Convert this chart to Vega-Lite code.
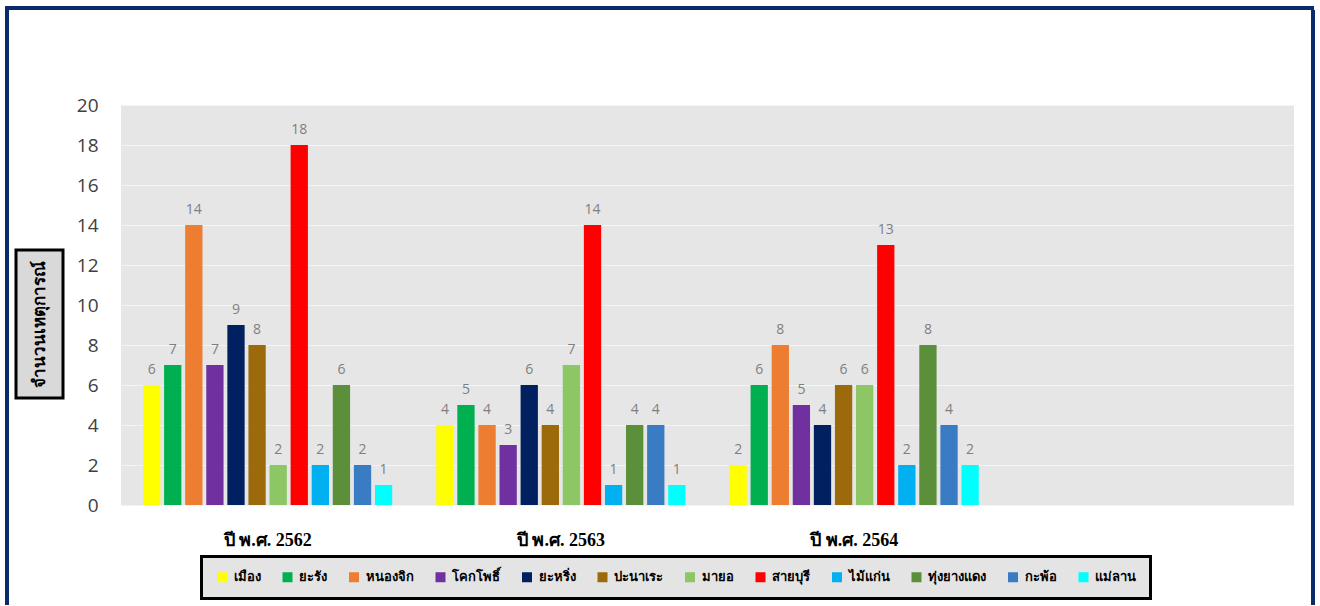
{
  "$schema": "https://vega.github.io/schema/vega-lite/v6.json",
  "padding": {"left": 5, "top": 6, "right": 0, "bottom": 0},
  "background": "white",
  "spacing": 0,
  "config": {
    "view": {"stroke": null},
    "concat": {"spacing": 0},
    "legend": {"strokeWidth": 3}
  },
  "vconcat": [
    {"width": 1309, "height": 4, "view": {"fill": "#0b2a6b", "stroke": null}, "data": {"values": []}, "mark": "point"},
    {
      "hconcat": [
        {"width": 4, "height": 595, "view": {"fill": "#0b2a6b", "stroke": null}, "data": {"values": []}, "mark": "point"},
        {"width": 5, "height": 1, "data": {"values": []}, "mark": "point"},
        {
          "vconcat": [
            {"width": 1, "height": 238, "data": {"values": []}, "mark": "point"},
            {
              "width": 47, "height": 148,
              "view": {"fill": "#d9d9d9", "stroke": "#000000", "strokeWidth": 3},
              "data": {"values": [{"label": "จำนวนเหตุการณ์"}]},
              "mark": {"type": "text", "angle": 270, "fontSize": 17, "fontWeight": "bold", "color": "#000000", "align": "center", "baseline": "middle"},
              "encoding": {"text": {"field": "label", "type": "nominal"}}
            }
          ],
          "spacing": 0
        },
        {"width": 11, "height": 1, "data": {"values": []}, "mark": "point"},
        {
          "vconcat": [
            {"width": 1, "height": 86, "data": {"values": []}, "mark": "point"},
            {
              "width": 1173, "height": 400,
              "view": {"fill": "#e6e6e6", "stroke": null},
              "data": {"values": [
                {"year": "ปี พ.ศ. 2562", "district": "เมือง", "count": 6},
                {"year": "ปี พ.ศ. 2562", "district": "ยะรัง", "count": 7},
                {"year": "ปี พ.ศ. 2562", "district": "หนองจิก", "count": 14},
                {"year": "ปี พ.ศ. 2562", "district": "โคกโพธิ์", "count": 7},
                {"year": "ปี พ.ศ. 2562", "district": "ยะหริ่ง", "count": 9},
                {"year": "ปี พ.ศ. 2562", "district": "ปะนาเระ", "count": 8},
                {"year": "ปี พ.ศ. 2562", "district": "มายอ", "count": 2},
                {"year": "ปี พ.ศ. 2562", "district": "สายบุรี", "count": 18},
                {"year": "ปี พ.ศ. 2562", "district": "ไม้แก่น", "count": 2},
                {"year": "ปี พ.ศ. 2562", "district": "ทุ่งยางแดง", "count": 6},
                {"year": "ปี พ.ศ. 2562", "district": "กะพ้อ", "count": 2},
                {"year": "ปี พ.ศ. 2562", "district": "แม่ลาน", "count": 1},
                {"year": "ปี พ.ศ. 2563", "district": "เมือง", "count": 4},
                {"year": "ปี พ.ศ. 2563", "district": "ยะรัง", "count": 5},
                {"year": "ปี พ.ศ. 2563", "district": "หนองจิก", "count": 4},
                {"year": "ปี พ.ศ. 2563", "district": "โคกโพธิ์", "count": 3},
                {"year": "ปี พ.ศ. 2563", "district": "ยะหริ่ง", "count": 6},
                {"year": "ปี พ.ศ. 2563", "district": "ปะนาเระ", "count": 4},
                {"year": "ปี พ.ศ. 2563", "district": "มายอ", "count": 7},
                {"year": "ปี พ.ศ. 2563", "district": "สายบุรี", "count": 14},
                {"year": "ปี พ.ศ. 2563", "district": "ไม้แก่น", "count": 1},
                {"year": "ปี พ.ศ. 2563", "district": "ทุ่งยางแดง", "count": 4},
                {"year": "ปี พ.ศ. 2563", "district": "กะพ้อ", "count": 4},
                {"year": "ปี พ.ศ. 2563", "district": "แม่ลาน", "count": 1},
                {"year": "ปี พ.ศ. 2564", "district": "เมือง", "count": 2},
                {"year": "ปี พ.ศ. 2564", "district": "ยะรัง", "count": 6},
                {"year": "ปี พ.ศ. 2564", "district": "หนองจิก", "count": 8},
                {"year": "ปี พ.ศ. 2564", "district": "โคกโพธิ์", "count": 5},
                {"year": "ปี พ.ศ. 2564", "district": "ยะหริ่ง", "count": 4},
                {"year": "ปี พ.ศ. 2564", "district": "ปะนาเระ", "count": 6},
                {"year": "ปี พ.ศ. 2564", "district": "มายอ", "count": 6},
                {"year": "ปี พ.ศ. 2564", "district": "สายบุรี", "count": 13},
                {"year": "ปี พ.ศ. 2564", "district": "ไม้แก่น", "count": 2},
                {"year": "ปี พ.ศ. 2564", "district": "ทุ่งยางแดง", "count": 8},
                {"year": "ปี พ.ศ. 2564", "district": "กะพ้อ", "count": 4},
                {"year": "ปี พ.ศ. 2564", "district": "แม่ลาน", "count": 2}
              ]},
              "encoding": {
                "x": {
                  "field": "year", "type": "nominal",
                  "scale": {"domain": ["ปี พ.ศ. 2562", "ปี พ.ศ. 2563", "ปี พ.ศ. 2564", " "], "paddingInner": 0.15, "paddingOuter": 0.075},
                  "axis": {"title": null, "ticks": false, "domain": false, "labelAngle": 0, "labelFont": "Liberation Serif", "labelFontWeight": "bold", "labelFontSize": 18, "labelColor": "#000000", "labelPadding": 26}
                },
                "y": {
                  "field": "count", "type": "quantitative",
                  "scale": {"domain": [0, 20], "nice": false},
                  "axis": {"title": null, "values": [0, 2, 4, 6, 8, 10, 12, 14, 16, 18, 20], "ticks": false, "domain": false, "labelFont": "Open Sans", "labelFontSize": 19, "labelColor": "#404040", "labelPadding": 23, "gridColor": "#f4f4f4", "gridWidth": 1}
                },
                "xOffset": {
                  "field": "district", "type": "nominal",
                  "sort": ["เมือง", "ยะรัง", "หนองจิก", "โคกโพธิ์", "ยะหริ่ง", "ปะนาเระ", "มายอ", "สายบุรี", "ไม้แก่น", "ทุ่งยางแดง", "กะพ้อ", "แม่ลาน"],
                  "scale": {"paddingInner": 0.18, "paddingOuter": 0}
                }
              },
              "layer": [
                {
                  "mark": {"type": "bar"},
                  "encoding": {
                    "color": {
                      "field": "district", "type": "nominal",
                      "scale": {
                        "domain": ["เมือง", "ยะรัง", "หนองจิก", "โคกโพธิ์", "ยะหริ่ง", "ปะนาเระ", "มายอ", "สายบุรี", "ไม้แก่น", "ทุ่งยางแดง", "กะพ้อ", "แม่ลาน"],
                        "range": ["#FFFF00", "#00B050", "#ED7D31", "#7030A0", "#002060", "#9C6A0A", "#8CC665", "#FF0000", "#00B0F0", "#5B8F3A", "#3A7CC4", "#00FFFF"]
                      },
                      "legend": {
                        "title": null, "orient": "none", "legendX": 196.5, "legendY": 550.5, "direction": "horizontal",
                        "symbolType": "square", "symbolSize": 100, "symbolStrokeWidth": 0,
                        "labelFontSize": 13, "labelFontWeight": "bold", "labelColor": "#000000", "labelOffset": 5,
                        "columnPadding": 20.5, "padding": 14, "strokeColor": "#000000", "fillColor": "#e4e4e4"
                      }
                    }
                  }
                },
                {
                  "mark": {"type": "text", "baseline": "bottom", "dy": -8, "fontSize": 14, "font": "Open Sans", "color": "#7f7f7f"},
                  "encoding": {"text": {"field": "count", "type": "quantitative"}}
                }
              ]
            }
          ],
          "spacing": 0
        },
        {"width": 17, "height": 1, "data": {"values": []}, "mark": "point"},
        {"width": 4, "height": 595, "view": {"fill": "#0b2a6b", "stroke": null}, "data": {"values": []}, "mark": "point"}
      ],
      "spacing": 0
    }
  ]
}
